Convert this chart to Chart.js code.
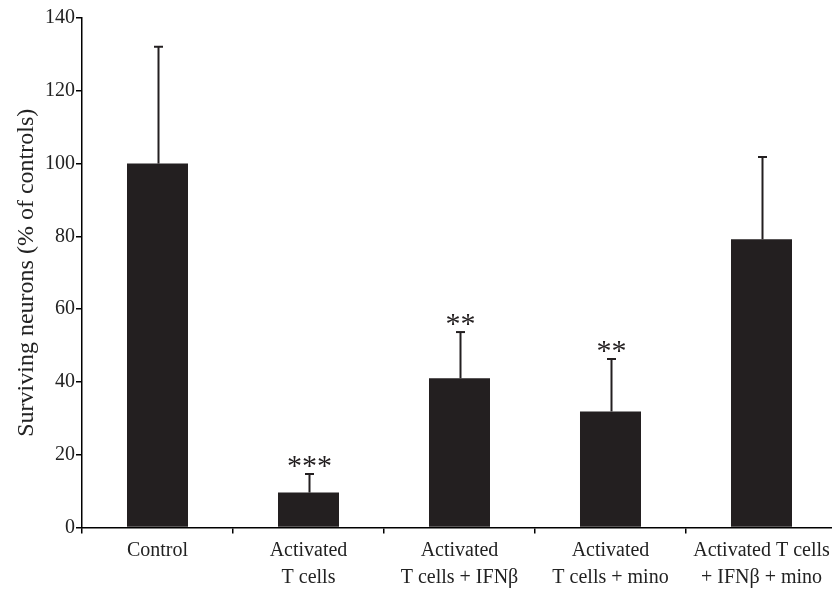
<!DOCTYPE html>
<html>
<head>
<meta charset="utf-8">
<script src="https://cdn.jsdelivr.net/npm/chart.js@4"></script>
<style>
html,body{margin:0;padding:0;background:#fff;overflow:hidden;}
#wrap{width:838px;height:589px;position:relative;}
</style>
</head>
<body>
<div id="wrap"><canvas id="c" width="838" height="589"></canvas></div>
<script>
const categories = [
  ['Control'],
  ['Activated', 'T cells'],
  ['Activated', 'T cells + IFNβ'],
  ['Activated', 'T cells + mino'],
  ['Activated T cells', '+ IFNβ + mino']
];
const values = [100, 9.6, 41.0, 31.9, 79.2];
const errorsUp = [32.1, 5.1, 12.7, 14.4, 22.6];
const sigLabels = ['', '***', '**', '**', ''];
const yTicks = [0, 20, 40, 60, 80, 100, 120, 140];

const FONT = '"Liberation Serif", "Times New Roman", serif';
const INK = '#231f20';

const errorBarPlugin = {
  id: 'errorBars',
  afterDatasetsDraw(chart) {
    const ctx = chart.ctx;
    const meta = chart.getDatasetMeta(0);
    const y = chart.scales.y;
    ctx.save();
    meta.data.forEach((bar, i) => {
      const x = Math.round(bar.x) + 0.5;
      const top = y.getPixelForValue(values[i] + errorsUp[i]);
      const base = y.getPixelForValue(values[i]);
      ctx.strokeStyle = INK;
      ctx.lineWidth = 2;
      ctx.beginPath();
      ctx.moveTo(x, base);
      ctx.lineTo(x, top);
      ctx.stroke();
      ctx.beginPath();
      ctx.moveTo(x - 4.5, top);
      ctx.lineTo(x + 4.5, top);
      ctx.stroke();
      if (sigLabels[i]) {
        ctx.fillStyle = INK;
        ctx.font = '30px ' + FONT;
        ctx.textAlign = 'center';
        ctx.textBaseline = 'alphabetic';
        ctx.fillText(sigLabels[i], x, top + 1);
      }
    });
    ctx.restore();
  }
};

new Chart(document.getElementById('c'), {
  type: 'bar',
  data: {
    labels: categories,
    datasets: [{
      data: values,
      backgroundColor: INK,
      borderWidth: 0,
      categoryPercentage: 1.0,
      barPercentage: 0.404
    }]
  },
  options: {
    responsive: false,
    animation: false,
    devicePixelRatio: 1,
    layout: { padding: { top: 18, right: 1, left: 0, bottom: 0 } },
    plugins: { legend: { display: false }, tooltip: { enabled: false } },
    scales: {
      x: {
        offset: true,
        grid: {
          offset: true,
          drawOnChartArea: false,
          drawTicks: true,
          tickLength: 6,
          color: '#000',
          lineWidth: 1.5
        },
        border: { display: true, color: '#000', width: 1.5 },
        ticks: {
          color: '#222',
          font: { family: FONT, size: 20, lineHeight: 1.35 },
          padding: 4,
          maxRotation: 0,
          autoSkip: false
        },
        afterFit(scale) { scale.height = 61.5; }
      },
      y: {
        min: 0,
        max: 140,
        afterBuildTicks(scale) { scale.ticks = yTicks.map(v => ({ value: v })); },
        grid: {
          drawOnChartArea: false,
          drawTicks: true,
          tickLength: 6,
          color: '#000',
          lineWidth: 1.5
        },
        border: { display: true, color: '#000', width: 1.5 },
        ticks: {
          color: '#222',
          font: { family: FONT, size: 20 },
          padding: 1
        },
        title: {
          display: true,
          text: 'Surviving neurons (% of controls)',
          color: '#222',
          font: { family: FONT, size: 24 },
          padding: { top: 12, bottom: 4 }
        },
        afterFit(scale) { scale.width = 82; }
      }
    }
  },
  plugins: [errorBarPlugin]
});
</script>
</body>
</html>
